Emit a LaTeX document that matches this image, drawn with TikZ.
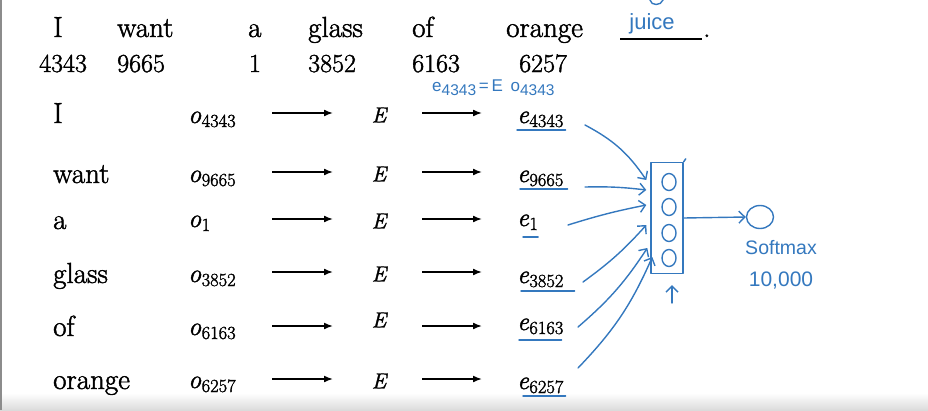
\documentclass[tikz,border=0pt]{standalone}
\usepackage{fontspec}
\setmainfont{Latin Modern Roman}[FakeBold=1.6]
\newfontfamily\hw{Liberation Sans}
\newcommand\vsub[2]{{\itshape #1}\kern0.5pt\raisebox{-4pt}{\fontsize{18.5}{20}\selectfont\upshape #2}}
\usetikzlibrary{arrows.meta,shapes.geometric,calc}
\definecolor{pen}{RGB}{52,120,190}
\begin{document}
\begin{tikzpicture}[x=1pt,y=-1pt,
 word/.style={font=\fontsize{29}{34}\selectfont, anchor=base west, inner sep=0},
 num/.style={font=\fontsize{26}{30}\selectfont, anchor=base west, inner sep=0},
 mth/.style={font=\fontsize{26}{30}\selectfont, anchor=base west, inner sep=0},
 emat/.style={font=\fontsize{22}{26}\selectfont\itshape, inner sep=0},
 arr/.style={-{Latex[length=9pt,width=7pt]}, line width=1.6pt, black},
 hand/.style={pen, line width=1.4pt, line cap=round, line join=round},
 harr/.style={hand, -{Straight Barb[length=6pt,width=12pt]}},
 htext/.style={pen, font=\hw\fontsize{19.5}{22}\selectfont, inner sep=0},
 circ/.style={hand, draw, ellipse, inner sep=0, minimum width=14pt, minimum height=17pt},
 ]
\useasboundingbox (0,0) rectangle (928,410);
% background details
\shade[top color=white, bottom color=black!14] (0,393) rectangle (928,410);
\draw[black!45, line width=2.5pt] (1.2,0) -- (1.2,410);

% top sentence
\node[word] (t1) at (53,37) {I};
\node[word] (t2) at (117,37) {want};
\node[word] (t3) at (248,37) {a};
\node[word] (t4) at (308,37) {glass};
\node[word] (t5) at (412,37) {of};
\node[word] (t6) at (506,37) {orange};
\draw[line width=1.4pt] (620,39) -- (702,39);
\node[word] (dot) at (703,37) {.};
\node[htext, font=\hw\fontsize{22}{24}\selectfont] (juice) at (652,24) {juice};
\draw[hand] (650,0) .. controls (651,6) and (661,6) .. (663,0);

% indices
\node[num] (n1) at (39,72) {4343};
\node[num] (n2) at (117,72) {9665};
\node[num, anchor=base] (n3) at (255,72) {1};
\node[num] (n4) at (308,72) {3852};
\node[num] (n5) at (412,72) {6163};
\node[num] (n6) at (519,72) {6257};

% handwritten equation
\node[htext, anchor=base west, font=\hw\fontsize{17}{20}\selectfont] (eq) at (432,91)
  {e\raisebox{-4pt}{\fontsize{15.5}{17}\selectfont 4343}\,=\,E\, o\raisebox{-4pt}{\fontsize{15.5}{17}\selectfont 4343}};

% left words
\node[word] (w1) at (53,123) {I};
\node[word] (w2) at (53,183) {want};
\node[word] (w3) at (53,229) {a};
\node[word] (w4) at (53,283) {glass};
\node[word] (w5) at (53,336) {of};
\node[word] (w6) at (53,389) {orange};

% one-hot vectors
\node[mth] (o1) at (188,123) {\vsub{o}{4343}};
\node[mth] (o2) at (188,182) {\vsub{o}{9665}};
\node[mth] (o3) at (188,227) {\vsub{o}{1}};
\node[mth] (o4) at (188,282) {\vsub{o}{3852}};
\node[mth] (o5) at (188,335) {\vsub{o}{6163}};
\node[mth] (o6) at (188,388) {\vsub{o}{6257}};

% E nodes
\node[emat] (E1) at (379,115) {E};
\node[emat] (E2) at (379,174) {E};
\node[emat] (E3) at (379,221) {E};
\node[emat] (E4) at (379,274) {E};
\node[emat] (E5) at (379,320) {E};
\node[emat] (E6) at (379,381) {E};

% embeddings
\node[mth] (e1) at (517,123) {\vsub{e}{4343}};
\node[mth] (e2) at (517,182) {\vsub{e}{9665}};
\node[mth] (e3) at (517,226) {\vsub{e}{1}};
\node[mth] (e4) at (517,283) {\vsub{e}{3852}};
\node[mth] (e5) at (517,330) {\vsub{e}{6163}};
\node[mth] (e6) at (517,389) {\vsub{e}{6257}};

% black arrows
\foreach \i in {1,2,3,4,6}{
  \draw[arr] ([shift={(-107,-2)}]E\i.center) -- ([shift={(-46,-2)}]E\i.center);
  \draw[arr] ([shift={(43,-2)}]E\i.center) -- ([shift={(103,-2)}]E\i.center);
}
\draw[arr] ([shift={(-107,6)}]E5.center) -- ([shift={(-46,6)}]E5.center);
\draw[arr] ([shift={(43,6)}]E5.center) -- ([shift={(103,6)}]E5.center);

% blue underlines
\draw[hand] ([shift={(0,7)}]e1.base west) -- ([shift={(2,7)}]e1.base east);
\draw[hand] ([shift={(3,7)}]e2.base west) -- ([shift={(4,7)}]e2.base east);
\draw[hand] ([shift={(6,11)}]e3.base west) -- ([shift={(0,11)}]e3.base east);
\draw[hand] ([shift={(4,8)}]e4.base west) -- ([shift={(11,8)}]e4.base east);
\draw[hand] ([shift={(2,10)}]e5.base west) -- ([shift={(-2,10)}]e5.base east);
\draw[hand] ([shift={(6,7)}]e6.base west) -- ([shift={(2,7)}]e6.base east);

% hidden layer
\node[hand, draw, rectangle, minimum width=32pt, minimum height=111pt, inner sep=0] (box) at (667,218) {};
\draw[hand] (box.north east) -- ++(2,-3);
\node[circ] (c1) at (669,182) {};
\node[circ] (c2) at (669,207) {};
\node[circ] (c3) at (669,233) {};
\node[circ] (c4) at (669,258) {};

% blue arrows into hidden layer
\coordinate (s1) at (585,125);
\coordinate (s2) at (585,187);
\coordinate (s3) at (568,225);
\coordinate (s4) at (583,282);
\coordinate (s5) at (578,327);
\coordinate (s6) at (578,368);
\draw[harr] (s1) to[bend left=14] ([shift={(-4,-38)}]box.west);
\draw[harr] (s2) to[bend left=4] ([shift={(-4,-28)}]box.west);
\draw[harr] (s3) to[bend left=3] ([shift={(-4,-13)}]box.west);
\draw[harr] (s4) to[bend right=6] ([shift={(-4,7)}]box.west);
\draw[harr] (s5) to[bend right=8] ([shift={(-3,30)}]box.west);
\draw[harr] (s6) to[bend right=10] ([shift={(2,39)}]box.west);

% softmax
\node[hand, draw, ellipse, inner sep=0, minimum width=27pt, minimum height=23pt] (sm) at (760,217) {};
\draw[harr] (box.east) -- (sm.west);
\coordinate (up) at (672,303);
\draw[harr] (up) -- ([shift={(5,11)}]box.south);
\node[htext] (smt) at (781,248) {Softmax};
\node[htext, font=\hw\fontsize{21}{24}\selectfont] (tenk) at (781,281) {10,000};
\end{tikzpicture}
\end{document}
